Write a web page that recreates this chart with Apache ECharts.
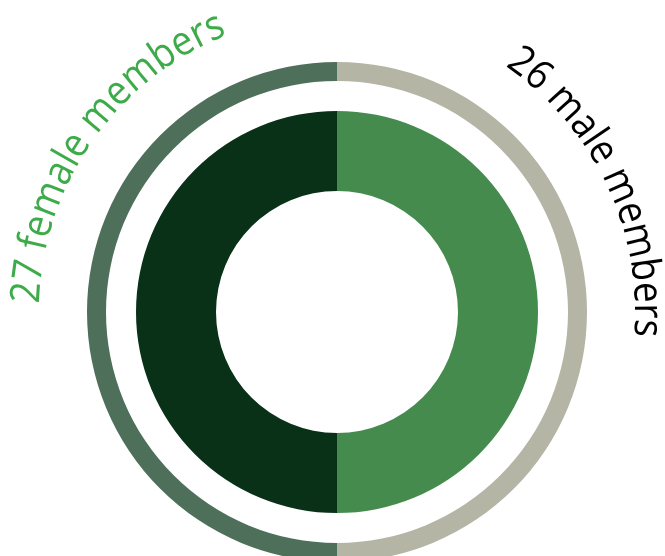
<!DOCTYPE html>
<html>
<head>
<meta charset="utf-8">
<script src="https://cdn.jsdelivr.net/npm/echarts/dist/echarts.min.js"></script>
<style>
  body { margin: 0; background: #fff; }
  #chart { width: 665px; height: 556px; }
</style>
</head>
<body>
<div id="chart"></div>
<script>
// members by group
const groups = ["female", "male"];
const memberCounts = [27, 26];
const groupLabels = ["27 female members", "26 male members"];
// the rings are drawn as four equal quarters (clockwise from 12 o'clock)
const quarterShares = [1, 1, 1, 1];
const quarterGroups = ["male", "male", "female", "female"];

const innerColors = { male: "#468b4e", female: "#093118" };
const outerColors = { male: "#b4b5a5", female: "#4e705b" };
const textColors = { female: "#3dab4a", male: "#000000" };

const cx = 337, cy = 312;
const chart = echarts.init(document.getElementById("chart"));

// place characters of a label along a circle (clockwise, tops outward)
function arcText(text, midDeg, radius, color, size, squeeze) {
  const font = size + 'px "Open Sans"';
  const ctx = document.createElement("canvas").getContext("2d");
  ctx.font = font;
  const widths = text.split("").map(ch => ctx.measureText(ch).width * squeeze);
  const total = widths.reduce((a, b) => a + b, 0);
  let s = -total / 2;
  const els = [];
  text.split("").forEach((ch, i) => {
    const mid = s + widths[i] / 2;
    s += widths[i];
    if (ch === " ") return;
    const theta = (midDeg * Math.PI) / 180 + mid / radius;
    const rr = radius + size * 0.36;
    els.push({
      type: "text",
      x: cx + rr * Math.sin(theta),
      y: cy - rr * Math.cos(theta),
      rotation: -theta,
      scaleX: squeeze,
      silent: true,
      style: {
        text: ch,
        font: font,
        fill: color,
        textAlign: "center",
        textVerticalAlign: "middle"
      }
    });
  });
  return els;
}

const quarterData = (colors) =>
  quarterShares.map((v, i) => ({
    value: v,
    name: quarterGroups[i] + i,
    itemStyle: { color: colors[quarterGroups[i]] }
  }));

const option = {
  animation: false,
  series: [
    {
      type: "pie",
      center: [cx, cy],
      radius: [121, 201],
      startAngle: 90,
      clockwise: true,
      silent: true,
      label: { show: false },
      labelLine: { show: false },
      itemStyle: { borderWidth: 0 },
      data: quarterData(innerColors)
    },
    {
      type: "pie",
      center: [cx, cy],
      radius: [231, 250],
      startAngle: 90,
      clockwise: true,
      silent: true,
      label: { show: false },
      labelLine: { show: false },
      itemStyle: { borderWidth: 0 },
      data: quarterData(outerColors)
    }
  ],
  graphic: [
    ...arcText(groupLabels[0], 305, 295, textColors.female, 41, 0.9),
    ...arcText(groupLabels[1], 64.5, 295, textColors.male, 41, 0.9)
  ]
};
chart.setOption(option);
</script>
</body>
</html>
